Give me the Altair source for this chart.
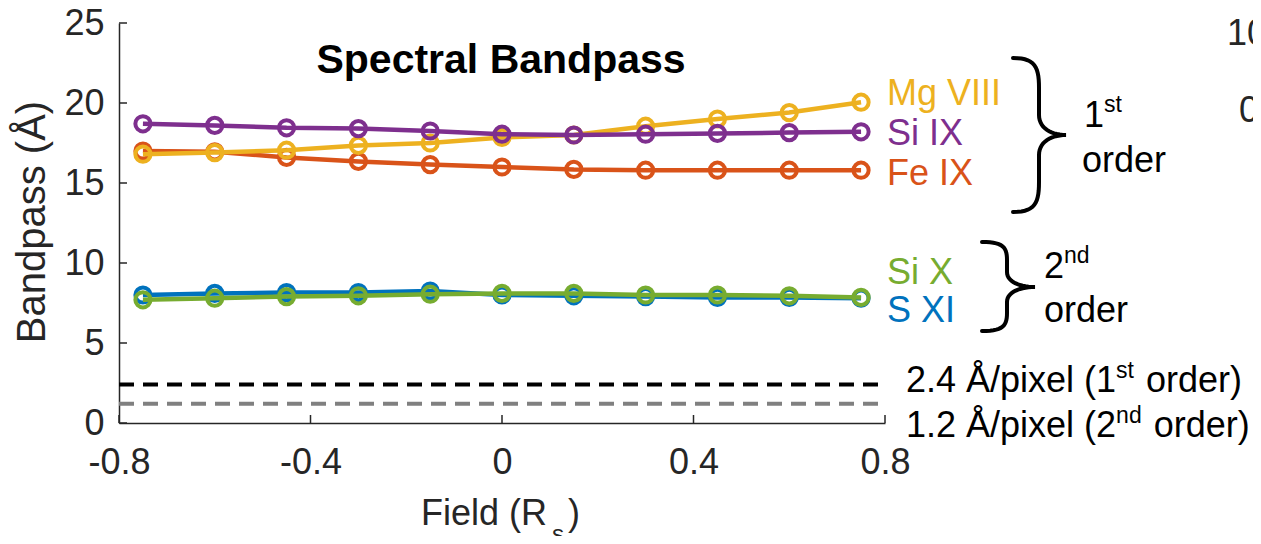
import altair as alt
import pandas as pd

# ---------------- data ----------------
field = [-0.75, -0.6, -0.45, -0.3, -0.15, 0.0, 0.15, 0.3, 0.45, 0.6, 0.75]
fe_ix = [17.0, 16.95, 16.6, 16.35, 16.15, 16.0, 15.85, 15.8, 15.8, 15.8, 15.8]
mg_viii = [16.8, 16.9, 17.05, 17.35, 17.5, 17.85, 18.0, 18.55, 19.0, 19.4, 20.05]
si_ix = [18.7, 18.6, 18.45, 18.4, 18.25, 18.05, 18.0, 18.05, 18.1, 18.15, 18.2]
s_xi = [8.0, 8.1, 8.15, 8.15, 8.25, 8.0, 7.95, 7.9, 7.85, 7.85, 7.8]
si_x = [7.7, 7.8, 7.9, 7.95, 8.05, 8.1, 8.1, 8.0, 8.0, 7.95, 7.85]

series_names = ["Fe IX", "Mg VIII", "Si IX", "S XI", "Si X"]
series_values = [fe_ix, mg_viii, si_ix, s_xi, si_x]
series_colors = ["#D95319", "#EDB120", "#7E2F8E", "#0072BD", "#77AC30"]

pixel_lines = [2.4, 1.2]
pixel_colors = ["#000000", "#808080"]

x_ticks = [-0.8, -0.4, 0.0, 0.4, 0.8]
y_ticks = [0, 5, 10, 15, 20, 25]

# ---------------- layout ----------------
OX, OY = 119, 23          # plot origin on page
PW, PH = 766, 400         # plot size
XMIN, XMAX, YMIN, YMAX = -0.8, 0.8, 0, 25
FONT = "Liberation Sans"
AX = "#262626"

xs = alt.Scale(domain=[XMIN, XMAX], nice=False, zero=False)
ys = alt.Scale(domain=[YMIN, YMAX], nice=False, zero=False)

layers = []

# dashed reference lines
for v, c in zip(pixel_lines, pixel_colors):
    layers.append(
        alt.Chart(pd.DataFrame({"v": [v]})).mark_rule(
            color=c, strokeWidth=4, strokeDash=[15, 9]
        ).encode(y=alt.Y("v:Q", scale=ys), x=alt.value(0), x2=alt.value(PW))
    )

# series
for name, vals, col in zip(series_names, series_values, series_colors):
    df = pd.DataFrame({"field": field, "val": vals, "s": name})
    base = alt.Chart(df).encode(
        x=alt.X("field:Q", scale=xs,
                axis=alt.Axis(values=x_ticks, title=None, ticks=False, tickSize=0,
                              labelExpr="replace(format(datum.value, '.1~f'), '\u2212', '-')",
                              labelFontSize=36, labelFont=FONT, labelColor=AX,
                              labelPadding=22, domainColor=AX, domainWidth=1.5,
                              grid=False, labelFlush=False)),
        y=alt.Y("val:Q", scale=ys,
                axis=alt.Axis(values=y_ticks, title=None, ticks=False, tickSize=0,
                              format="d", labelFontSize=36, labelFont=FONT,
                              labelColor=AX, labelPadding=15, domainColor=AX,
                              domainWidth=1.5, grid=False, labelFlush=False)),
    )
    layers.append(base.mark_line(color=col, strokeWidth=4.5))
    layers.append(base.mark_point(color=col, filled=False, size=230,
                                  strokeWidth=4, opacity=1))

# inward ticks
layers.append(
    alt.Chart(pd.DataFrame({"t": x_ticks})).mark_rule(color=AX, strokeWidth=1.5)
    .encode(x=alt.X("t:Q", scale=xs), y=alt.value(PH), y2=alt.value(PH - 8))
)
layers.append(
    alt.Chart(pd.DataFrame({"t": y_ticks})).mark_rule(color=AX, strokeWidth=1.5)
    .encode(y=alt.Y("t:Q", scale=ys), x=alt.value(0), x2=alt.value(8))
)


# braces (annotation shapes)
def bez(p0, p1, p2, p3, n=14):
    pts = []
    for i in range(n + 1):
        t = i / n
        a = (1 - t) ** 3
        b = 3 * (1 - t) ** 2 * t
        c = 3 * (1 - t) * t ** 2
        d = t ** 3
        pts.append((a * p0[0] + b * p1[0] + c * p2[0] + d * p3[0],
                    a * p0[1] + b * p1[1] + c * p2[1] + d * p3[1]))
    return pts


def brace(x0, xsp, xt, yt, yb, ym, r1, r2):
    pts = []
    pts += bez((x0, yt), (x0 + (xsp - x0) * 0.85, yt), (xsp, yt + r1 * 0.3), (xsp, yt + r1))
    pts += bez((xsp, ym - r2), (xsp, ym - r2 * 0.35), (xsp + (xt - xsp) * 0.45, ym), (xt, ym))
    pts += bez((xt, ym), (xsp + (xt - xsp) * 0.45, ym), (xsp, ym + r2 * 0.35), (xsp, ym + r2))
    pts += bez((xsp, yb - r1), (xsp, yb - r1 * 0.3), (x0 + (xsp - x0) * 0.85, yb), (x0, yb))
    return pts


rows = []
for bi, spec in enumerate([(1013, 1039, 1066, 58, 212, 135, 30, 20),
                           (982, 1007, 1035, 242, 331, 287, 18, 15)]):
    for i, (px, py) in enumerate(brace(*spec)):
        rows.append({"b": bi, "i": i,
                     "x": XMIN + (px - OX) / PW * (XMAX - XMIN),
                     "y": YMAX - (py - OY) / PH * (YMAX - YMIN)})
layers.append(
    alt.Chart(pd.DataFrame(rows)).mark_line(color="black", strokeWidth=4, strokeCap="round")
    .encode(x=alt.X("x:Q", scale=xs), y=alt.Y("y:Q", scale=ys),
            detail="b:N", order="i:Q")
)

# ---------------- text annotations ----------------
W = {' ': 278, '(': 333, ')': 333, '.': 278, '/': 278, 'A': 667, 'Å': 667, 'B': 667,
     'F': 611, 'I': 278, 'M': 833, 'R': 722, 'S': 667, 'V': 667, 'X': 667,
     'a': 556, 'd': 556, 'e': 556, 'g': 556, 'i': 222, 'l': 222, 'n': 556,
     'o': 556, 'p': 556, 'r': 333, 's': 500, 't': 278, 'x': 500}


def tw(s, fs):
    return sum(W.get(ch, 556) for ch in s) * fs / 1000


texts = []


def txt(s, px, py, fs=36, color="black", align="left", weight="normal",
        angle=0, baseline="alphabetic"):
    texts.append((s, px, py, fs, color, align, weight, angle, baseline))


FS, SUP = 36, 23
# title
txt("Spectral Bandpass", 501, 73, fs=41, align="center", weight="bold")
# series labels
for name, col, by in zip(["Mg VIII", "Si IX", "Fe IX", "Si X", "S XI"],
                         ["#EDB120", "#7E2F8E", "#D95319", "#77AC30", "#0072BD"],
                         [105, 145, 185, 284, 322]):
    txt(name, 887, by, color=col)
# order labels
txt("1", 1084, 127)
txt("st", 1084 + tw("1", FS), 112, fs=SUP)
txt("order", 1082, 172)
txt("2", 1044, 278)
txt("nd", 1044 + tw("2", FS), 263, fs=SUP)
txt("order", 1044, 322)
# pixel-size labels
for main_s, sup_s, by in [("2.4 Å/pixel (1", "st", 392), ("1.2 Å/pixel (2", "nd", 437)]:
    x1 = 906
    txt(main_s, x1, by)
    x2 = x1 + tw(main_s, FS)
    txt(sup_s, x2, by - 14, fs=SUP)
    txt("order)", x2 + tw(sup_s, SUP) + tw(" ", FS) + 2, by)
# axis titles
txt("Field (R", 421, 525, fs=36, color=AX)
xs_ = 421 + tw("Field (R", 36) + 5
txt("s", xs_, 542, fs=24, color=AX)
txt(")", xs_ + tw("s", 24) + 4, 525, fs=36, color=AX)
txt("Bandpass (Å)", 33, 222, fs=40, color=AX, align="center", angle=270,
    baseline="middle")
# cut-off labels of a neighbouring panel
txt("10", 1227, 45, color=AX)
txt("0", 1239, 122, color=AX)

for s, px, py, fs, col, al, wt, ang, bl in texts:
    layers.append(
        alt.Chart(pd.DataFrame({"t": [s]})).mark_text(
            font=FONT, fontSize=fs, color=col, align=al, fontWeight=wt,
            angle=ang, baseline=bl
        ).encode(text="t:N", x=alt.value(px - OX), y=alt.value(py - OY))
    )

chart = alt.layer(*layers).properties(
    width=PW, height=PH,
    autosize=alt.AutoSizeParams(type="none"),
    padding={"left": OX - 8, "top": OY - 8, "right": 1245 - (OX - 8) - PW,
             "bottom": 528 - (OY - 8) - PH},
    background="white",
).configure_view(stroke=None)

chart.save("out.html", embed_options={"renderer": "svg", "actions": False})
